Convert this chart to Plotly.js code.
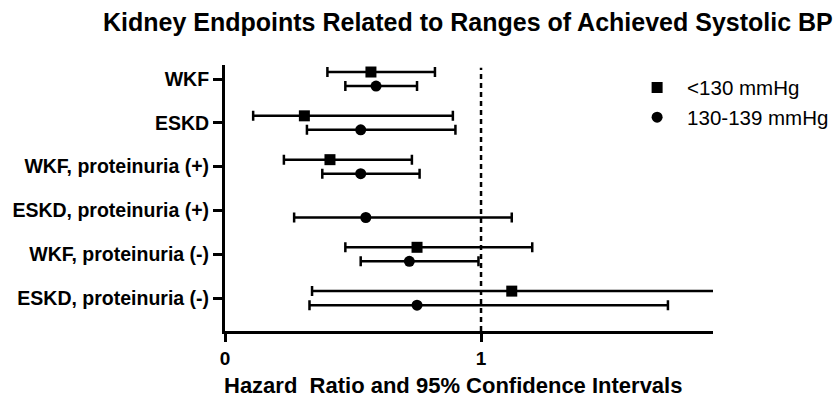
<!DOCTYPE html>
<html>
<head>
<meta charset="utf-8">
<script src="https://cdn.plot.ly/plotly-3.0.1.min.js"></script>
<style>
  html, body { margin: 0; padding: 0; background: #fff; }
  #chart { width: 837px; height: 399px; }
</style>
</head>
<body>
<div id="chart"></div>
<script>
// ---- data ----
const categories = [
  "WKF",
  "ESKD",
  "WKF, proteinuria (+)",
  "ESKD, proteinuria (+)",
  "WKF, proteinuria (-)",
  "ESKD, proteinuria (-)"
];
const seriesNames = ["<130 mmHg", "130-139 mmHg"];

// <130 mmHg: hazard ratio, lower and upper 95% CI
const hrLow = [0.57, 0.31, 0.41, null, 0.75, 1.12];
const ciLoLow = [0.40, 0.11, 0.23, null, 0.47, 0.34];
const ciHiLow = [0.82, 0.89, 0.73, null, 1.20, 2.10];

// 130-139 mmHg
const hrMid = [0.59, 0.53, 0.53, 0.55, 0.72, 0.75];
const ciLoMid = [0.47, 0.32, 0.38, 0.27, 0.53, 0.33];
const ciHiMid = [0.75, 0.90, 0.76, 1.12, 0.99, 1.73];

const xTickVals = [0, 1];
const xTickText = ["0", "1"];

// ---- build traces ----
const FONT = "Liberation Sans, Arial, Helvetica, sans-serif";
const idx = categories.map((c, i) => i);
const offset = 0.16;

function makeTrace(name, hr, lo, hi, symbol, dy) {
  return {
    type: "scatter",
    mode: "markers",
    name: name,
    x: hr,
    y: idx.map(i => i + dy),
    marker: { symbol: symbol, size: 11, color: "#000" },
    error_x: {
      type: "data",
      symmetric: false,
      array: hr.map((v, i) => v == null ? null : hi[i] - v),
      arrayminus: hr.map((v, i) => v == null ? null : v - lo[i]),
      color: "#000",
      thickness: 2.5,
      width: 5
    },
    hoverinfo: "x+name"
  };
}

const data = [
  makeTrace(seriesNames[0], hrLow, ciLoLow, ciHiLow, "square", -offset),
  makeTrace(seriesNames[1], hrMid, ciLoMid, ciHiMid, "circle", offset)
];

const layout = {
  width: 837,
  height: 399,
  margin: { l: 225, r: 124, t: 65, b: 68, autoexpand: false },
  paper_bgcolor: "#fff",
  plot_bgcolor: "#fff",
  font: { family: FONT, color: "#000" },
  showlegend: true,
  title: {
    text: "<b>Kidney Endpoints Related to Ranges of Achieved Systolic BP</b>",
    font: { family: FONT, size: 25, color: "#000" },
    x: 0.559, xref: "container", xanchor: "center",
    y: 0.945, yref: "container", yanchor: "middle"
  },
  xaxis: {
    range: [0, 1.906],
    tickmode: "array",
    tickvals: xTickVals,
    ticktext: xTickText,
    ticks: "outside",
    ticklen: 8,
    tickwidth: 3,
    tickcolor: "#000",
    showline: true,
    linewidth: 3,
    linecolor: "#000",
    showgrid: false,
    zeroline: false,
    tickfont: { family: FONT, size: 19, color: "#000", weight: "bold" },
    fixedrange: true
  },
  yaxis: {
    range: [5.75, -0.32],
    tickmode: "array",
    tickvals: idx,
    ticktext: categories.map(c => "<b>" + c + "</b>"),
    ticks: "outside",
    ticklen: 9,
    tickwidth: 3,
    tickcolor: "#000",
    showline: true,
    linewidth: 3,
    linecolor: "#000",
    showgrid: false,
    zeroline: false,
    tickfont: { family: FONT, size: 19.5, color: "#000" },
    fixedrange: true
  },
  annotations: [{
    text: "<b>Hazard\u00a0 Ratio and 95% Confidence Intervals</b>",
    xref: "paper", yref: "paper",
    x: 0.468, xanchor: "center",
    y: -0.205, yanchor: "middle",
    showarrow: false,
    font: { family: FONT, size: 22, color: "#000" }
  }],
  shapes: [{
    type: "line",
    xref: "x", yref: "paper",
    x0: 1, x1: 1, y0: 0, y1: 0.99,
    line: { color: "#000", width: 2.5, dash: "5px,4px" },
    layer: "below"
  }],
  legend: {
    x: 0.824, xanchor: "left",
    y: 0.99, yanchor: "top",
    bgcolor: "rgba(0,0,0,0)",
    borderwidth: 0,
    itemwidth: 50,
    font: { family: FONT, size: 20.5, color: "#000" },
    tracegroupgap: 0
  }
};

Plotly.newPlot("chart", data, layout, { displayModeBar: false, staticPlot: true });
</script>
</body>
</html>
